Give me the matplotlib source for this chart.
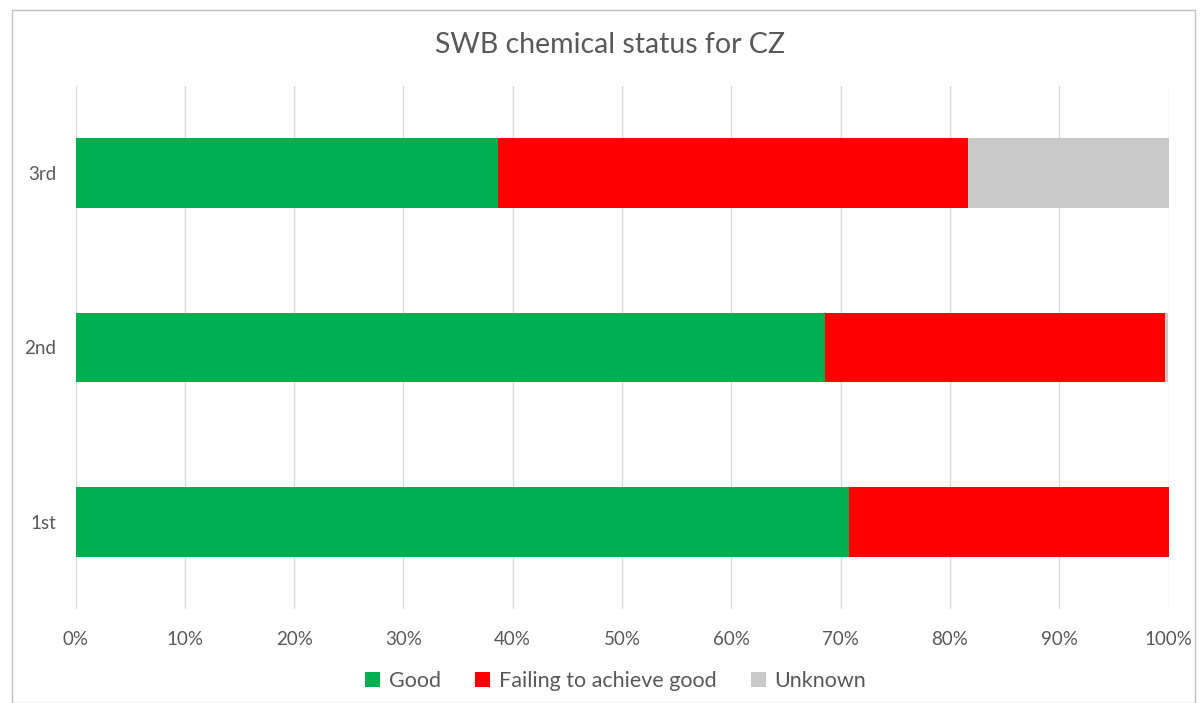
import matplotlib.pyplot as plt
from matplotlib.patches import Rectangle

plt.rcParams['font.family'] = ['Lato', 'DejaVu Sans']

cycles = ['1st', '2nd', '3rd']
good = [70.8, 68.6, 38.7]
failing = [29.2, 31.1, 43.0]
unknown = [0.0, 0.3, 18.3]
xticks = list(range(0, 101, 10))

txt = '#595959'

fig = plt.figure(figsize=(12, 7.03), dpi=100)
ax = fig.add_axes([75.5/1200, 1 - 609/703, 1093/1200, 523/703])

ax.barh(cycles, good, height=0.4, color='#00b050', label='Good', zorder=3)
ax.barh(cycles, failing, left=good, height=0.4, color='#ff0000',
        label='Failing to achieve good', zorder=3)
left2 = [g + f for g, f in zip(good, failing)]
ax.barh(cycles, unknown, left=left2, height=0.4, color='#c9c9c9',
        label='Unknown', zorder=3)

ax.set_xlim(0, 100)
ax.set_ylim(-0.5, 2.5)
ax.set_xticks(xticks)
ax.set_xticklabels([f'{t}%' for t in xticks])
ax.grid(axis='x', color='#d9d9d9', linewidth=1, zorder=0)
for s in ax.spines.values():
    s.set_visible(False)
ax.tick_params(axis='both', length=0, colors=txt, labelsize=13.5)
ax.tick_params(axis='x', pad=16)
ax.tick_params(axis='y', pad=14)

fig.text(0.5083, 1 - 45/703, 'SWB chemical status for CZ', ha='center', va='center',
         fontsize=20.5, color=txt)

fig.legend(loc='center', bbox_to_anchor=(0.513, 1 - 681/703), ncol=3, frameon=False,
           fontsize=15.5, labelcolor=txt, handlelength=0.7, handleheight=0.7,
           handletextpad=0.4, columnspacing=1.6)

fig.patches.append(Rectangle((12/1200, 0), 1183/1200, 1 - 10/703, transform=fig.transFigure,
                             fill=False, edgecolor='#bfbfbf', linewidth=1))

fig.savefig('out.png')
